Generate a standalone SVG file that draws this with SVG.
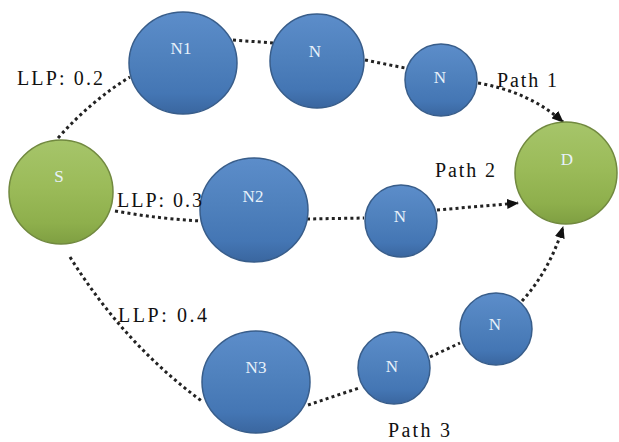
<svg xmlns="http://www.w3.org/2000/svg" width="619" height="442" viewBox="0 0 619 442">
<defs>
<linearGradient id="gb" x1="0" y1="0" x2="0" y2="1">
<stop offset="0" stop-color="#5c8dca"/>
<stop offset="0.45" stop-color="#4f81bd"/>
<stop offset="0.8" stop-color="#4476b4"/>
<stop offset="1" stop-color="#3a669f"/>
</linearGradient>
<linearGradient id="gg" x1="0" y1="0" x2="0" y2="1">
<stop offset="0" stop-color="#a6c56a"/>
<stop offset="0.45" stop-color="#9bbb59"/>
<stop offset="0.8" stop-color="#8eaf4c"/>
<stop offset="1" stop-color="#7f9f42"/>
</linearGradient>
<marker id="arr" viewBox="0 0 12 10" refX="11" refY="5" markerWidth="12" markerHeight="10" markerUnits="userSpaceOnUse" orient="auto">
<path d="M0,0 L12,5 L0,10 Z" fill="#111"/>
</marker>
</defs>
<style>
.b{fill:url(#gb);stroke:#385d8a;stroke-width:1.5}
.g{fill:url(#gg);stroke:#71893f;stroke-width:1.5}
.nt{font-family:"Liberation Serif",serif;font-size:17px;fill:#e8f2fb;text-anchor:middle}
.lb{font-family:"Liberation Serif",serif;font-size:20px;fill:#111}
.c{fill:none;stroke:#222;stroke-width:3;stroke-dasharray:3 3.2}
</style>
<rect width="619" height="442" fill="#fff"/>
<g id="connectors">
<path class="c" d="M58,138 Q92,100 130,77"/>
<path class="c" d="M233,40 L273,43"/>
<path class="c" d="M365,60 L405,68"/>
<path class="c" d="M478,83 Q530,92 563,122" marker-end="url(#arr)"/>
<path class="c" d="M115,211 Q160,219 202,221"/>
<path class="c" d="M307,219 L364,218"/>
<path class="c" d="M437,210 L518,203" marker-end="url(#arr)"/>
<path class="c" d="M70,257 Q125,345 203,402"/>
<path class="c" d="M308,405 L359,388"/>
<path class="c" d="M430,357 L460,343"/>
<path class="c" d="M522,301 Q550,270 563,227" marker-end="url(#arr)"/>
</g>
<g id="S"><circle class="g" cx="61" cy="192" r="52"/><text class="nt" x="59" y="182">S</text></g>
<g id="N1"><ellipse class="b" cx="183" cy="63" rx="54" ry="51"/><text class="nt" x="181" y="54">N1</text></g>
<g id="Na"><circle class="b" cx="317" cy="61" r="47"/><text class="nt" x="315" y="57">N</text></g>
<g id="Nb"><circle class="b" cx="441" cy="80" r="36"/><text class="nt" x="440" y="83">N</text></g>
<g id="D"><circle class="g" cx="566" cy="173" r="51"/><text class="nt" x="567" y="165">D</text></g>
<g id="N2"><ellipse class="b" cx="254" cy="210" rx="54" ry="52"/><text class="nt" x="253" y="202">N2</text></g>
<g id="Nc"><circle class="b" cx="401" cy="221" r="36"/><text class="nt" x="400" y="222">N</text></g>
<g id="N3"><ellipse class="b" cx="256" cy="382" rx="54" ry="51"/><text class="nt" x="256" y="373">N3</text></g>
<g id="Nd"><circle class="b" cx="394" cy="368" r="36"/><text class="nt" x="392" y="372">N</text></g>
<g id="Ne"><circle class="b" cx="496" cy="329" r="36"/><text class="nt" x="495" y="330">N</text></g>
<g id="labels">
<text class="lb" x="17" y="85" textLength="86" lengthAdjust="spacing">LLP: 0.2</text>
<text class="lb" x="117" y="207" textLength="85" lengthAdjust="spacing">LLP: 0.3</text>
<text class="lb" x="118" y="322" textLength="89" lengthAdjust="spacing">LLP: 0.4</text>
<text class="lb" x="497" y="87" textLength="60" lengthAdjust="spacing">Path 1</text>
<text class="lb" x="435" y="177" textLength="60" lengthAdjust="spacing">Path 2</text>
<text class="lb" x="388" y="437" textLength="62" lengthAdjust="spacing">Path 3</text>
</g>
</svg>
